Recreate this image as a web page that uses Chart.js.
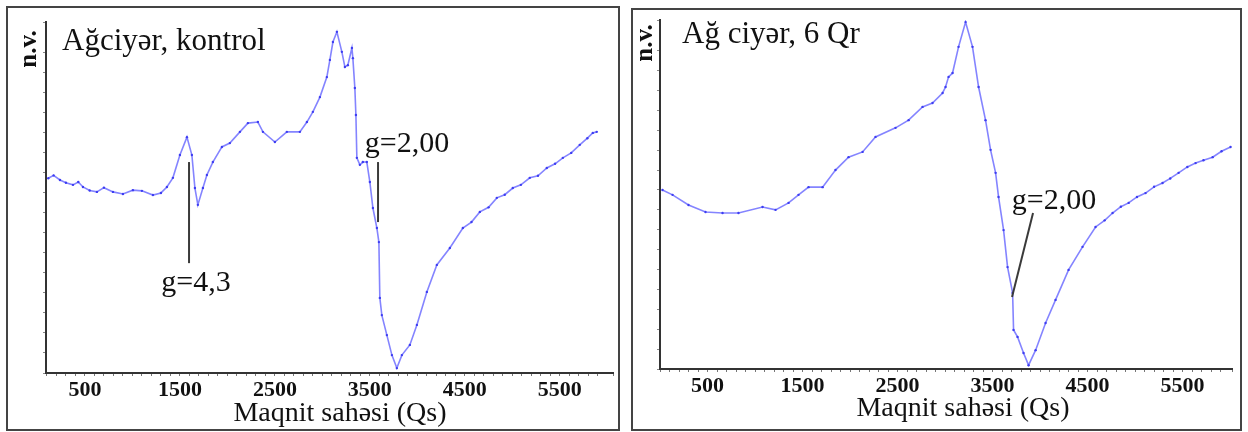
<!DOCTYPE html>
<html>
<head>
<meta charset="utf-8">
<script src="https://cdn.jsdelivr.net/npm/chart.js@4.4.1/dist/chart.umd.min.js"></script>
<style>
  body { margin: 0; background: #fff; }
  #wrap { position: relative; width: 1248px; height: 432px; overflow: hidden; }
  .panel { position: absolute; border: 2px solid #444; box-sizing: border-box; }
  canvas { position: absolute; top: 0; }
</style>
</head>
<body>
<div id="wrap">
  <div class="panel" style="left:6px;top:6px;width:614px;height:425px;"></div>
  <div class="panel" style="left:631px;top:8px;width:611px;height:423px;"></div>
  <canvas id="left" style="left:0"></canvas>
  <canvas id="right" style="left:624px"></canvas>
</div>
<script>
// Ağciyər, kontrol — maqnit sahəsi (Qs) və siqnal (n.v.)
const fieldControl = [114, 170, 237, 300, 374, 430, 479, 550, 626, 700, 795, 900, 1005, 1100, 1216, 1300, 1363, 1426, 1500, 1574, 1626, 1658, 1689, 1742, 1784, 1847, 1942, 2026, 2132, 2216, 2321, 2374, 2500, 2626, 2763, 2837, 2900, 2974, 3047, 3079, 3111, 3153, 3205, 3237, 3268, 3311, 3321, 3342, 3353, 3363, 3395, 3426, 3468, 3500, 3532, 3574, 3595, 3605, 3626, 3679, 3732, 3784, 3837, 3921, 3995, 4100, 4205, 4342, 4479, 4570, 4658, 4750, 4837, 4920, 5005, 5090, 5184, 5270, 5363, 5450, 5532, 5620, 5710, 5790, 5847, 5889];
const signalControl = [55.5, 56.3, 55.0, 54.2, 53.6, 54.4, 53.0, 52.0, 51.6, 52.8, 51.6, 51.0, 52.1, 51.9, 50.7, 51.3, 53.0, 55.6, 62.1, 67.2, 62.1, 52.7, 47.9, 52.7, 56.4, 60.1, 64.4, 65.5, 68.7, 71.2, 71.5, 68.7, 65.8, 68.7, 68.7, 71.5, 74.4, 78.6, 84.3, 89.2, 94.3, 97.2, 91.5, 87.2, 87.7, 92.6, 89.7, 81.2, 73.5, 61.3, 59.3, 60.1, 60.1, 54.4, 47.0, 41.3, 37.3, 21.4, 16.5, 10.8, 5.1, 1.4, 5.1, 8.0, 13.7, 23.1, 30.8, 35.6, 41.3, 43.0, 45.9, 47.2, 49.9, 50.8, 52.7, 53.6, 55.6, 56.2, 58.4, 59.6, 61.3, 62.7, 65.0, 66.9, 68.4, 68.7];

// Ağ ciyər, 6 Qr
const field6Qr = [26, 132, 300, 479, 658, 826, 1079, 1216, 1353, 1458, 1563, 1711, 1847, 1984, 2132, 2268, 2479, 2616, 2763, 2868, 2974, 3005, 3037, 3079, 3142, 3216, 3289, 3353, 3426, 3479, 3532, 3563, 3616, 3658, 3711, 3721, 3763, 3826, 3879, 3953, 4058, 4163, 4300, 4447, 4584, 4680, 4763, 4850, 4932, 5020, 5110, 5200, 5289, 5370, 5458, 5550, 5637, 5720, 5816, 5910, 6005];
const signal6Qr = [51.3, 49.9, 47.0, 45.0, 44.7, 44.7, 46.4, 45.6, 47.6, 49.9, 52.1, 52.1, 57.0, 60.7, 62.2, 66.5, 69.1, 71.3, 75.1, 76.2, 79.1, 80.8, 83.7, 84.8, 92.3, 99.4, 92.3, 80.8, 71.3, 62.8, 56.2, 49.3, 39.8, 29.2, 21.8, 11.2, 9.2, 4.6, 1.1, 5.4, 13.2, 19.8, 28.4, 35.0, 40.7, 42.6, 44.7, 46.5, 47.6, 49.3, 50.4, 52.2, 53.3, 54.6, 56.2, 57.9, 59.0, 59.8, 60.7, 62.4, 63.6];

// x oxu etiketləri
const fieldTicks = [500, 1500, 2500, 3500, 4500, 5500];

// g-faktor qeydləri (sahə, siqnal)
const marksControl = [
  { text: 'g=4,3', x1: 1596, y1: 60.1, x2: 1596, y2: 31.3, tx: 1669, ty: 25.6 },
  { text: 'g=2,00', x1: 3586, y1: 60.1, x2: 3586, y2: 43.0, tx: 3891, ty: 65.2 }
];
const marks6Qr = [
  { text: 'g=2,00', x1: 3926, y1: 44.7, x2: 3705, y2: 20.6, tx: 4147, ty: 48.1 }
];

const serif = '"Liberation Serif", "Times New Roman", serif';

const panelText = {
  id: 'panelText',
  afterDraw(chart, args, opts) {
    const ctx = chart.ctx;
    const xs = chart.scales.x, ys = chart.scales.y;
    ctx.save();
    ctx.fillStyle = '#111';
    // g qeydləri
    opts.marks.forEach(m => {
      ctx.strokeStyle = '#3a3a3a';
      ctx.lineWidth = 2;
      ctx.beginPath();
      ctx.moveTo(xs.getPixelForValue(m.x1), ys.getPixelForValue(m.y1));
      ctx.lineTo(xs.getPixelForValue(m.x2), ys.getPixelForValue(m.y2));
      ctx.stroke();
      ctx.font = '30px ' + serif;
      ctx.textAlign = 'center';
      ctx.textBaseline = 'middle';
      ctx.fillText(m.text, xs.getPixelForValue(m.tx), ys.getPixelForValue(m.ty));
    });
    // başlıq
    ctx.font = '31px ' + serif;
    ctx.textAlign = 'left';
    ctx.textBaseline = 'alphabetic';
    ctx.fillText(opts.title, opts.titleX, opts.titleY);
    // x oxunun adı
    ctx.font = '28px ' + serif;
    ctx.textAlign = 'center';
    ctx.fillText('Maqnit sahəsi (Qs)', opts.axisX, opts.axisY);
    // n.v.
    ctx.translate(opts.nvX, opts.nvY);
    ctx.rotate(-Math.PI / 2);
    ctx.font = 'bold 25px ' + serif;
    ctx.textBaseline = 'middle';
    ctx.fillText('n.v.', 0, 0);
    ctx.restore();
  }
};

function makeChart(id, fields, signals, xMin, xMax, pad, text) {
  const canvas = document.getElementById(id);
  canvas.width = 624;
  canvas.height = 432;
  return new Chart(canvas, {
    type: 'line',
    data: {
      datasets: [{
        data: fields.map((f, i) => ({ x: f, y: signals[i] })),
        borderColor: 'rgba(110,110,255,0.85)',
        borderWidth: 1.6,
        pointRadius: 1.2,
        pointBackgroundColor: '#3d3df2',
        pointBorderWidth: 0,
        tension: 0
      }]
    },
    options: {
      responsive: false,
      animation: false,
      layout: { padding: pad },
      plugins: { legend: { display: false }, tooltip: { enabled: false }, panelText: text },
      scales: {
        x: {
          type: 'linear',
          min: xMin,
          max: xMax,
          afterFit: s => { s.height = 30; },
          border: { display: true, color: '#333', width: 2 },
          grid: { drawOnChartArea: false, drawTicks: true, tickLength: 3, tickColor: '#777', lineWidth: 1 },
          ticks: {
            stepSize: 100,
            autoSkip: false,
            maxRotation: 0,
            padding: 1,
            color: '#111',
            font: { family: serif, size: 22, weight: 'bold' },
            callback: v => fieldTicks.includes(v) ? String(v) : ''
          }
        },
        y: {
          min: 0,
          max: 100,
          afterFit: s => { s.width = 6; },
          border: { display: true, color: '#333', width: 2 },
          grid: { drawOnChartArea: false, drawTicks: true, tickLength: 3, tickColor: '#888', lineWidth: 1 },
          ticks: { display: false, stepSize: 5.7 }
        }
      }
    },
    plugins: [panelText]
  });
}

makeChart('left', fieldControl, signalControl, 90, 6060,
  { left: 40, right: 11, top: 22, bottom: 29 },
  { marks: marksControl, title: 'Ağciyər, kontrol', titleX: 62, titleY: 50, axisX: 340, axisY: 421, nvX: 30, nvY: 49 });

makeChart('right', field6Qr, signal6Qr, 0, 6020,
  { left: 30, right: 16, top: 20, bottom: 33 },
  { marks: marks6Qr, title: 'Ağ ciyər, 6 Qr', titleX: 58, titleY: 43, axisX: 339, axisY: 416, nvX: 22, nvY: 43 });
</script>
</body>
</html>
